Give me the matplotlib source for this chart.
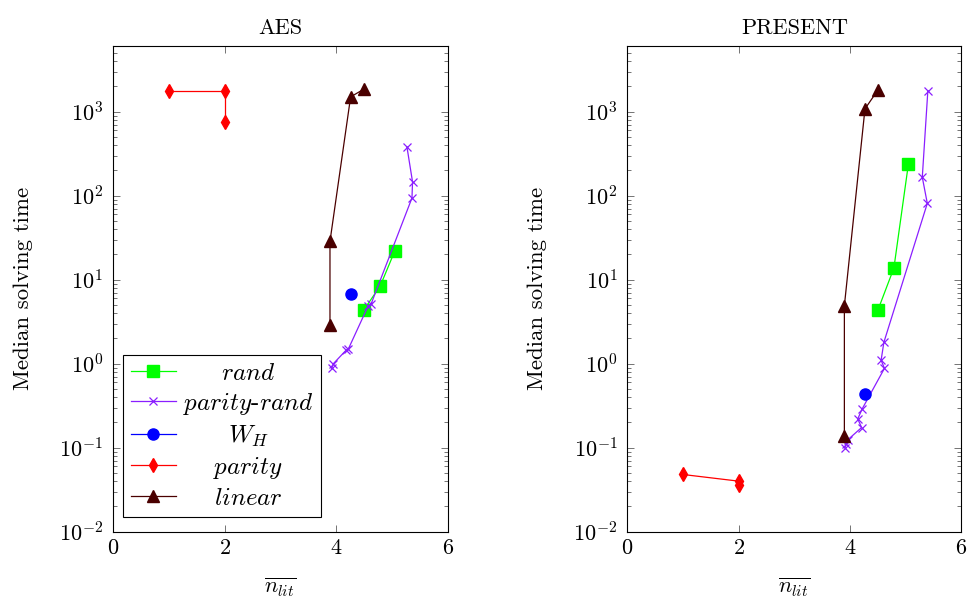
import matplotlib
matplotlib.use("Agg")
import matplotlib.pyplot as plt
from matplotlib.ticker import LogLocator, NullFormatter, FixedLocator

plt.rcParams['font.family'] = 'serif'
plt.rcParams['font.serif'] = ['cmr10', 'DejaVu Serif']
plt.rcParams['mathtext.fontset'] = 'cm'
plt.rcParams['axes.formatter.use_mathtext'] = True
plt.rcParams['font.size'] = 16

# AES
aes_rand_x = [4.50, 4.79, 5.05]
aes_rand_y = [4.4, 8.4, 21.8]
aes_pr_x = [3.92, 3.95, 4.18, 4.22, 4.57, 4.63, 5.36, 5.37, 5.27]
aes_pr_y = [0.88, 1.0, 1.45, 1.5, 4.8, 5.2, 94, 146, 380]
aes_wh_x = [4.26]
aes_wh_y = [6.7]
aes_par_x = [1, 2, 2]
aes_par_y = [1780, 1780, 760]
aes_lin_x = [3.89, 3.89, 4.26, 4.50]
aes_lin_y = [2.9, 28.6, 1500, 1860]

# PRESENT
pre_rand_x = [4.50, 4.79, 5.05]
pre_rand_y = [4.3, 13.8, 237]
pre_pr_x = [3.91, 3.93, 3.96, 4.21, 4.14, 4.22, 4.62, 4.56, 4.61, 5.39, 5.30, 5.40]
pre_pr_y = [0.10, 0.11, 0.124, 0.174, 0.22, 0.29, 0.88, 1.1, 1.8, 81, 166, 1780]
pre_wh_x = [4.27]
pre_wh_y = [0.44]
pre_par_x = [1, 2, 2]
pre_par_y = [0.048, 0.040, 0.036]
pre_lin_x = [3.90, 3.90, 4.27, 4.50]
pre_lin_y = [0.138, 4.9, 1080, 1800]

c_rand = '#00ff00'
c_pr = '#8a1eff'
c_wh = '#0000ff'
c_par = '#ff0000'
c_lin = '#4a0000'

fig = plt.figure(figsize=(9.69, 6.03), dpi=100)
ax1 = fig.add_axes([0.1166, 0.1182, 0.3454, 0.8055])
ax2 = fig.add_axes([0.6474, 0.1182, 0.3446, 0.8055])


def draw(ax, d, title):
    (rx, ry), (px, py), (wx, wy), (qx, qy), (lx, ly) = d
    ax.plot(rx, ry, color=c_rand, marker='s', ms=8, lw=0.9, label='$rand$')
    ax.plot(px, py, color=c_pr, marker='x', ms=6, mew=0.9, lw=0.9, label='$parity$-$rand$')
    ax.plot(wx, wy, color=c_wh, marker='o', ms=8, lw=0.9, label='$W_H$')
    ax.plot(qx, qy, color=c_par, marker='d', ms=7, lw=0.9, label='$parity$')
    ax.plot(lx, ly, color=c_lin, marker='^', ms=8, lw=0.9, label='$linear$')
    ax.set_yscale('log')
    ax.set_xlim(0, 6)
    ax.set_ylim(1e-2, 6050)
    ax.xaxis.set_major_locator(FixedLocator([0, 2, 4, 6]))
    ax.yaxis.set_major_locator(LogLocator(base=10, numticks=20))
    ax.yaxis.set_minor_locator(LogLocator(base=10, subs=range(2, 10), numticks=20))
    ax.yaxis.set_minor_formatter(NullFormatter())
    ax.tick_params(which='both', direction='in', top=True, right=True, color='0.45', width=0.7)
    ax.tick_params(which='major', length=5, labelsize=16)
    ax.tick_params(axis='y', which='major', pad=7)
    ax.tick_params(axis='x', which='major', pad=5)
    ax.tick_params(which='minor', length=3)
    for s in ax.spines.values():
        s.set_linewidth(0.8)
    ax.set_title(title, fontsize=16, pad=9)
    ax.set_xlabel(r'$\overline{n_{lit}}$', fontsize=16, labelpad=13)
    ax.set_ylabel('Median solving time', fontsize=16.5, labelpad=19)


draw(ax1, [(aes_rand_x, aes_rand_y), (aes_pr_x, aes_pr_y), (aes_wh_x, aes_wh_y),
           (aes_par_x, aes_par_y), (aes_lin_x, aes_lin_y)], 'AES')
draw(ax2, [(pre_rand_x, pre_rand_y), (pre_pr_x, pre_pr_y), (pre_wh_x, pre_wh_y),
           (pre_par_x, pre_par_y), (pre_lin_x, pre_lin_y)], 'PRESENT')

leg = ax1.legend(loc='lower left', bbox_to_anchor=(0.03, 0.03), borderaxespad=0,
                 numpoints=1, fontsize=18, handlelength=1.8, handletextpad=0.3,
                 labelspacing=0.25, borderpad=0.3, fancybox=False, framealpha=1,
                 edgecolor='black')
leg.get_frame().set_linewidth(0.8)

# center the labels in their column
renderer = fig.canvas.get_renderer()
widths = [t.get_window_extent(renderer).width for t in leg.get_texts()]
shift = max(widths)
for t, w in zip(leg.get_texts(), widths):
    t.set_position(((shift - w) / 2, 0))

fig.savefig('out.png', dpi=100)
